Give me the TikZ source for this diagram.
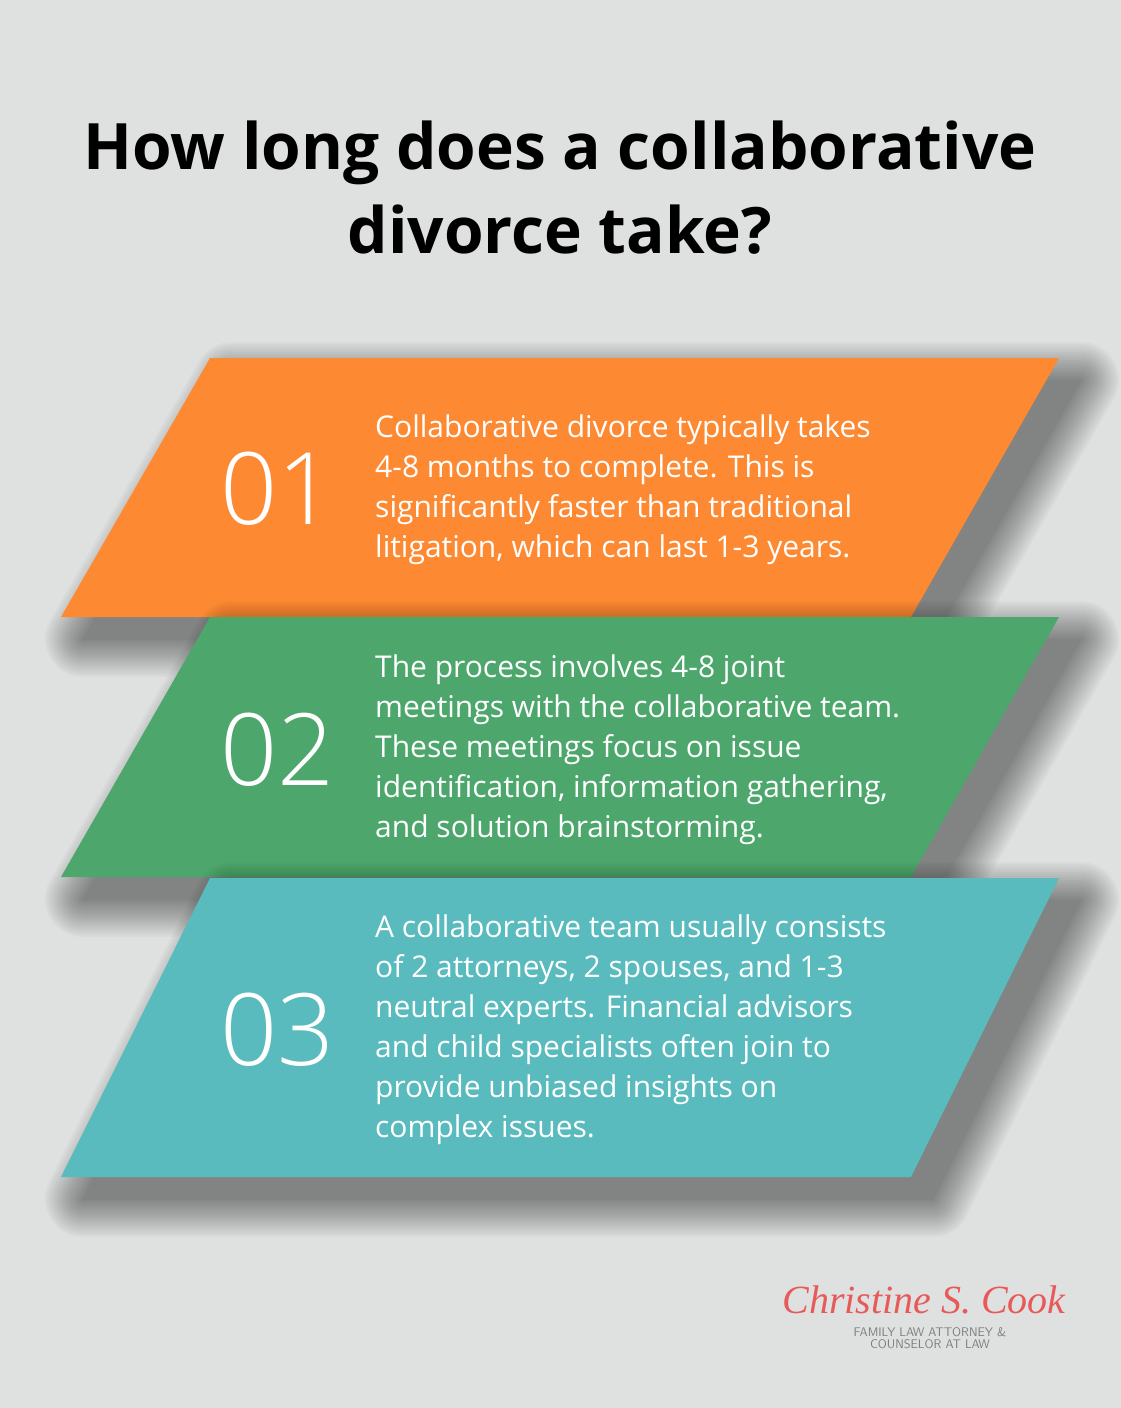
\documentclass[tikz,border=0pt]{standalone}
\usepackage{fontspec}
\setmainfont{Open Sans}
\newfontfamily\numfont{Open Sans Light}
\newfontfamily\logoscript{Liberation Serif}
\definecolor{bg}{HTML}{DFE1E0}
\definecolor{orangeband}{HTML}{FD8A33}
\definecolor{greenband}{HTML}{4DA76C}
\definecolor{tealband}{HTML}{59BBBD}
\definecolor{logored}{HTML}{E8595A}
\definecolor{logogray}{HTML}{7D7D7D}
\tikzset{%
	softshade/.style = {transparency group, opacity=0.023}, % one layer of the shadow
	number/.style  = {anchor=west, text=white, inner sep=0pt,
		font=\fontsize{100}{100}\selectfont\numfont}, % step number
	info/.style    = {anchor=west, text=white, align=left, inner sep=0pt,
		font=\fontsize{30}{40}\selectfont} % step text
}
% band with its shadow: colour, top y, bottom y
\newcommand{\stepband}[3]{%
	\foreach \w in {76,72,...,0}{
		\begin{scope}[softshade]
			\filldraw[black, line join=round, line width=\w pt]
				(232,#2+22) -- (1081,#2+22) -- (933,#3+22) -- (83,#3+22) -- cycle;
		\end{scope}}
	\fill[#1] (210,#2) -- (1059,#2) -- (911,#3) -- (61,#3) -- cycle;
}

\begin{document}
\begin{tikzpicture}[x=1pt,y=-1pt]
                \useasboundingbox (0,0) rectangle (1120,1408);
                \fill[bg] (-5,-5) rectangle (1125,1413);

                \node[align=center, font=\fontsize{64}{84}\selectfont\bfseries] (title) at (560,188)
                    {How long does a collaborative\\divorce take?};

                \stepband{orangeband}{358}{617}
                \stepband{greenband}{617}{877}
                \stepband{tealband}{878}{1177}

                \node[number] (num1) at (220,489) {01};
                \node[number] (num2) at (220,750) {02};
                \node[number] (num3) at (220,1030) {03};

                \node[info] (txt1) at (375,490) {Collaborative divorce typically takes\\
                    4-8 months to complete. This is\\significantly faster than traditional\\
                    litigation, which can last 1-3 years.};
                \node[info] (txt2) at (375,750) {The process involves 4-8 joint\\
                    meetings with the collaborative team.\\These meetings focus on issue\\
                    identification, information gathering,\\and solution brainstorming.};
                \node[info] (txt3) at (375,1030) {A collaborative team usually consists\\
                    of 2 attorneys, 2 spouses, and 1-3\\neutral experts. Financial advisors\\
                    and child specialists often join to\\provide unbiased insights on\\complex issues.};

                % logo
                \node[text=logored, font=\fontsize{40}{40}\selectfont\logoscript\itshape] (logo) at (924,1300)
                    {Christine S. Cook};
                \node[text=logogray, align=center, inner sep=0pt, font=\fontsize{12.5}{12}\selectfont\sffamily]
                    (tagline) at (930,1338) {FAMILY LAW ATTORNEY \&\\COUNSELOR AT LAW};
            \end{tikzpicture}
\end{document}
